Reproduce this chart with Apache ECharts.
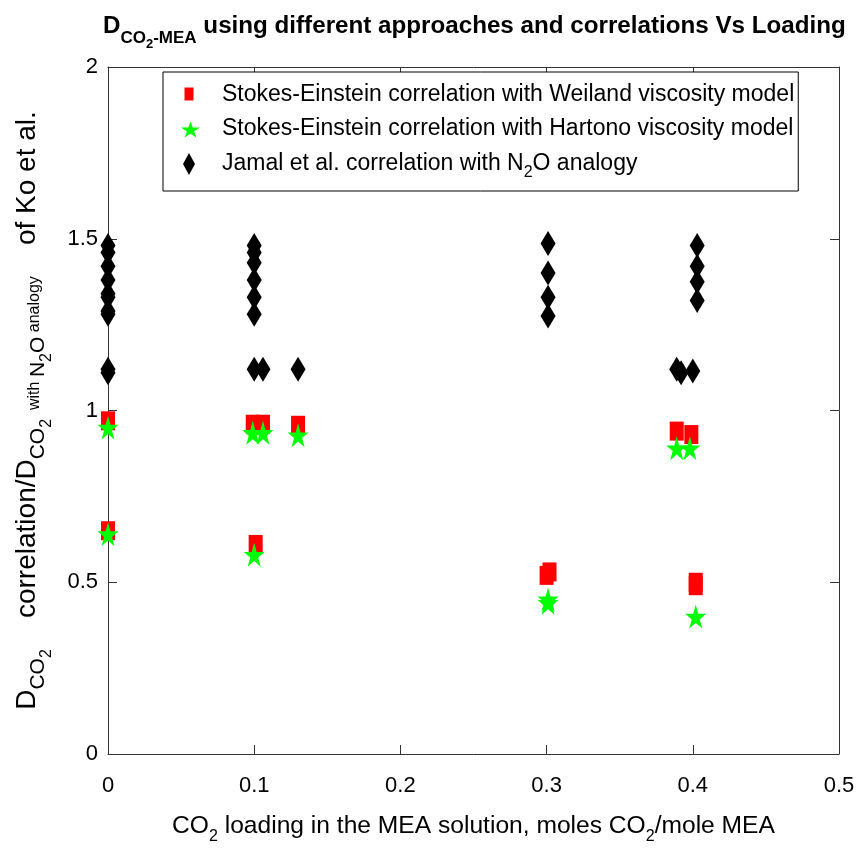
<!DOCTYPE html>
<html>
<head>
<meta charset="utf-8">
<script src="https://cdn.jsdelivr.net/npm/echarts@6/dist/echarts.min.js"></script>
<style>
  html, body { margin: 0; padding: 0; background: #ffffff; }
  #chart { width: 861px; height: 850px; }
</style>
</head>
<body>
<div id="chart"></div>
<script>
// Stokes-Einstein correlation with Weiland viscosity model
const weilandLoading = [0, 0, 0.099, 0.106, 0.101, 0.13, 0.300, 0.302, 0.389, 0.399, 0.402, 0.402];
const weilandRatio   = [0.97, 0.65, 0.96, 0.96, 0.61, 0.957, 0.52, 0.53, 0.94, 0.93, 0.50, 0.49];

// Stokes-Einstein correlation with Hartono viscosity model
const hartonoLoading = [0, 0, 0.099, 0.106, 0.100, 0.13, 0.301, 0.301, 0.389, 0.398, 0.402];
const hartonoRatio   = [0.95, 0.64, 0.935, 0.935, 0.58, 0.928, 0.45, 0.44, 0.89, 0.89, 0.40];

// Jamal et al. correlation with N2O analogy
const jamalLoading = [0, 0, 0, 0, 0, 0, 0, 0, 0, 0,
                      0.1, 0.1, 0.1, 0.1, 0.1, 0.1, 0.1, 0.106, 0.13,
                      0.301, 0.301, 0.301, 0.301,
                      0.403, 0.403, 0.403, 0.403, 0.389, 0.392, 0.400];
const jamalRatio   = [1.48, 1.46, 1.42, 1.38, 1.34, 1.33, 1.29, 1.28, 1.12, 1.11,
                      1.48, 1.46, 1.43, 1.38, 1.33, 1.28, 1.12, 1.12, 1.12,
                      1.486, 1.40, 1.33, 1.275,
                      1.48, 1.42, 1.375, 1.32, 1.12, 1.11, 1.115];

const seriesNames = [
  'Stokes-Einstein correlation with Weiland viscosity model',
  'Stokes-Einstein correlation with Hartono viscosity model',
  'Jamal et al. correlation with N2O analogy'
];

// Axis ranges and tick spacing
const xTicks = [0, 0.1, 0.2, 0.3, 0.4, 0.5];
const yTicks = [0, 0.5, 1, 1.5, 2];

const FONT = "'Liberation Sans', Arial, Helvetica, sans-serif";

// five-point star outline
const STAR = 'path://M100 0 L122.45 69.1 L195.1 69.1 L136.3 111.8 L158.8 180.9 L100 138.2 L41.2 180.9 L63.7 111.8 L4.9 69.1 L77.55 69.1 Z';

// legend icons laid out inside a 40x26 item box
const LEG_SQUARE  = 'path://M0 0 M40 26 M7.5 5.5 L16.5 5.5 L16.5 18.5 L7.5 18.5 Z';
const LEG_STAR    = 'path://M0 0 M40 26 M13.5 5 L15.75 11.11 L23.01 11.11 L17.13 14.89 L19.38 21 L13.5 17.22 L7.62 21 L9.87 14.89 L3.99 11.11 L11.26 11.11 Z';
const LEG_DIAMOND = 'path://M0 0 M40 26 M12 2 L18 13 L12 24 L6 13 Z';

function zip(xs, ys) { return xs.map((x, i) => [x, ys[i]]); }

// Rich-text styles: every token hangs from the line top; scripts are pushed
// down with top padding (m = main text, s = subscript, ss = second-level
// subscript, w = small words written at subscript level).
function richSet(opt) {
  const weight = opt.bold ? 'bold' : 'normal';
  const base = { fontFamily: FONT, fontWeight: weight, color: '#000', lineHeight: opt.L, verticalAlign: 'top' };
  return {
    m:  Object.assign({}, base, { fontSize: opt.main }),
    s:  Object.assign({}, base, { fontSize: opt.sub, padding: [opt.padSub, 0, 0, 0] }),
    ss: Object.assign({}, base, { fontSize: opt.subsub, padding: [opt.padSubSub, 0, 0, 0] }),
    w:  Object.assign({}, base, { fontSize: opt.small, padding: [opt.padSmall, 0, 0, 0] })
  };
}

const chart = echarts.init(document.getElementById('chart'), null, { renderer: 'canvas' });

const axisLineStyle = { color: '#333333', width: 1 };

chart.setOption({
  backgroundColor: '#ffffff',
  animation: false,
  title: {
    text: '{m|D}{s|CO}{ss|2}{s|-MEA}{m| using different approaches and correlations Vs Loading}',
    left: 103,
    top: 14,
    padding: 0,
    textStyle: {
      rich: richSet({ bold: true, main: 24.2, sub: 17, subsub: 13, small: 13,
                      padSub: 16, padSubSub: 24, padSmall: 16, L: 40 })
    }
  },
  legend: {
    orient: 'vertical',
    left: 163,
    top: 72,
    padding: [10, 4, 10, 14],
    itemWidth: 40,
    itemHeight: 26,
    itemGap: 8.5,
    symbolKeepAspect: false,
    borderColor: '#000000',
    borderWidth: 1,
    backgroundColor: '#ffffff',
    selectedMode: false,
    textStyle: {
      fontFamily: FONT,
      fontSize: 23,
      color: '#000',
      rich: {
        t: { fontFamily: FONT, fontSize: 23, color: '#000', lineHeight: 26, verticalAlign: 'top', padding: [1, 0, 0, 0] },
        s: { fontFamily: FONT, fontSize: 16, color: '#000', lineHeight: 26, verticalAlign: 'top', padding: [14, 0, 0, 0] }
      }
    },
    formatter: function (name) {
      const k = name.indexOf('N2O');
      if (k < 0) return '{t|' + name + '}';
      return '{t|' + name.slice(0, k + 1) + '}{s|2}{t|' + name.slice(k + 2) + '}';
    },
    data: [
      { name: seriesNames[0], icon: LEG_SQUARE },
      { name: seriesNames[1], icon: LEG_STAR },
      { name: seriesNames[2], icon: LEG_DIAMOND }
    ]
  },
  grid: { left: 108, right: 22, top: 67, bottom: 91, containLabel: false },
  xAxis: [
    {
      type: 'value',
      min: xTicks[0],
      max: xTicks[xTicks.length - 1],
      interval: 0.1,
      position: 'bottom',
      axisLine: { show: true, onZero: false, lineStyle: axisLineStyle },
      axisTick: { show: true, inside: true, length: 9, lineStyle: axisLineStyle },
      axisLabel: { fontFamily: FONT, fontSize: 22, color: '#000', margin: 21 },
      splitLine: { show: false },
      name: '{m|CO}{s|2}{m| loading in the MEA solution, moles CO}{s|2}{m|/mole MEA}',
      nameLocation: 'middle',
      nameGap: 60,
      nameTextStyle: {
        rich: richSet({ main: 24.6, sub: 16, subsub: 16, small: 16,
                        padSub: 15, padSubSub: 15, padSmall: 15, L: 34 })
      }
    },
    {
      type: 'value',
      min: xTicks[0],
      max: xTicks[xTicks.length - 1],
      interval: 0.1,
      position: 'top',
      axisLine: { show: true, onZero: false, lineStyle: axisLineStyle },
      axisTick: { show: true, inside: true, length: 9, lineStyle: axisLineStyle },
      axisLabel: { show: false },
      splitLine: { show: false }
    }
  ],
  yAxis: [
    {
      type: 'value',
      min: yTicks[0],
      max: yTicks[yTicks.length - 1],
      interval: 0.5,
      position: 'left',
      axisLine: { show: true, onZero: false, lineStyle: axisLineStyle },
      axisTick: { show: true, inside: true, length: 9, lineStyle: axisLineStyle },
      axisLabel: { fontFamily: FONT, fontSize: 22, color: '#000', margin: 10 },
      splitLine: { show: false },
      name: '{m|D}{s|CO}{ss|2}{m|    correlation/D}{s|CO}{ss|2}{w|  with }{s|N}{ss|2}{s|O}{w| analogy}{m|    of Ko et al.}',
      nameLocation: 'middle',
      nameRotate: 90,
      nameGap: 51,
      nameTextStyle: {
        rich: richSet({ main: 28, sub: 21, subsub: 16, small: 16,
                        padSub: 15, padSubSub: 26, padSmall: 14, L: 44 })
      }
    },
    {
      type: 'value',
      min: yTicks[0],
      max: yTicks[yTicks.length - 1],
      interval: 0.5,
      position: 'right',
      axisLine: { show: true, onZero: false, lineStyle: axisLineStyle },
      axisTick: { show: true, inside: true, length: 9, lineStyle: axisLineStyle },
      axisLabel: { show: false },
      splitLine: { show: false }
    }
  ],
  series: [
    {
      name: seriesNames[0],
      type: 'scatter',
      symbol: 'rect',
      symbolSize: [14, 19],
      itemStyle: { color: '#ff0000', opacity: 1 },
      data: zip(weilandLoading, weilandRatio),
      z: 2
    },
    {
      name: seriesNames[1],
      type: 'scatter',
      symbol: STAR,
      symbolSize: [21, 24],
      itemStyle: { color: '#00ff00', opacity: 1 },
      data: zip(hartonoLoading, hartonoRatio),
      z: 3
    },
    {
      name: seriesNames[2],
      type: 'scatter',
      symbol: 'diamond',
      symbolSize: [15, 25],
      itemStyle: { color: '#000000', opacity: 1 },
      data: zip(jamalLoading, jamalRatio),
      z: 4
    }
  ]
});
</script>
</body>
</html>
